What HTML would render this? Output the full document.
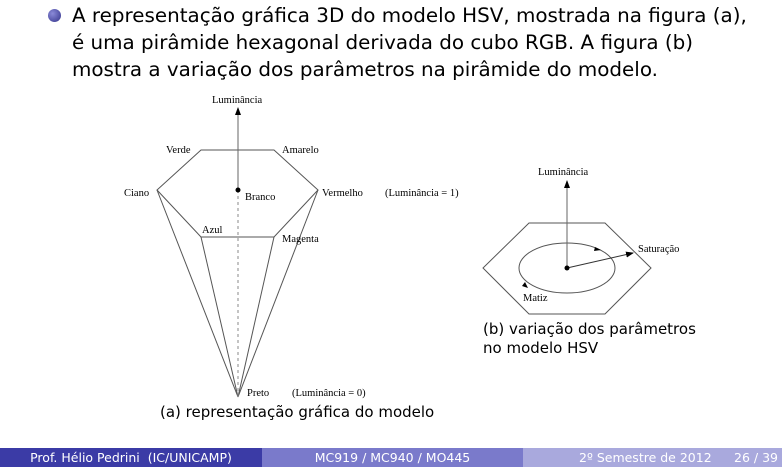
<!DOCTYPE html>
<html><head><meta charset="utf-8"><style>
body{margin:0;width:782px;height:467px;background:#fff;position:relative;overflow:hidden;font-family:"DejaVu Sans","Liberation Sans",sans-serif}
.t{position:absolute;left:72px;top:2px;font-size:19.9px;line-height:27px;color:#000;white-space:nowrap}
.b{position:absolute;left:48px;top:9px;width:13px;height:13px;border-radius:50%;background:radial-gradient(circle at 35% 35%,#8a8ad8,#33338a)}
.f{position:absolute;top:448px;height:19px;font-size:12.5px;color:#fff;line-height:19px}
.cap{position:absolute;font-size:15px;white-space:nowrap}
svg text{font-family:"Liberation Serif",serif;font-size:10.5px}
</style></head><body>
<div class="b"></div>
<div class="t">A representação gráfica 3D do modelo HSV, mostrada na figura (a),<br>é uma pirâmide hexagonal derivada do cubo RGB. A figura (b)<br>mostra a variação dos parâmetros na pirâmide do modelo.</div>
<svg width="782" height="467" style="position:absolute;left:0;top:0">
<defs><marker id="a" markerWidth="8" markerHeight="8" refX="7" refY="4" orient="auto" markerUnits="userSpaceOnUse"><path d="M0,1 L8,4 L0,7z" fill="#000"/></marker></defs>
<g stroke="#555" fill="none" stroke-width="1">
<polygon points="201,150 274,150 318,190 274,237 201,237 157,190"/>
<line x1="157" y1="190" x2="238" y2="397"/><line x1="201" y1="237" x2="238" y2="397"/>
<line x1="274" y1="237" x2="238" y2="397"/><line x1="318" y1="190" x2="238" y2="397"/>
<line x1="238" y1="190" x2="238" y2="397" stroke-dasharray="3,3" stroke="#888"/>
<line x1="238" y1="190" x2="238" y2="108" stroke="#666" marker-end="url(#a)"/>
<polygon points="529,223 605,223 651,268 605,314 529,314 483,268"/>
<ellipse cx="567" cy="268" rx="48" ry="25"/>
<line x1="567" y1="268" x2="567" y2="181" stroke="#666" marker-end="url(#a)"/>
<line x1="567" y1="268" x2="633" y2="253" stroke="#333" marker-end="url(#a)"/>
</g>
<circle cx="238" cy="190" r="2.5"/><circle cx="567" cy="268" r="2.5"/>
<path d="M595,247 l6,3 l-7,1z" fill="#000"/><path d="M525,282 l3,6 l-6,-2z" fill="#000"/>
<text x="212" y="103">Luminância</text><text x="166" y="153">Verde</text><text x="282" y="153">Amarelo</text>
<text x="124" y="196">Ciano</text><text x="245" y="200">Branco</text><text x="322" y="196">Vermelho</text>
<text x="385" y="196">(Luminância = 1)</text><text x="202" y="233">Azul</text><text x="282" y="242">Magenta</text>
<text x="247" y="396">Preto</text><text x="292" y="396">(Luminância = 0)</text>
<text x="538" y="175">Luminância</text><text x="638" y="252">Saturação</text><text x="523" y="301">Matiz</text>
</svg>
<div class="cap" style="left:160px;top:403px">(a) representação gráfica do modelo</div>
<div class="cap" style="left:483px;top:320px;line-height:19px">(b) variação dos parâmetros<br>no modelo HSV</div>
<div class="f" style="left:0;width:262px;background:#3b3ba6;text-align:center">Prof. Hélio Pedrini &nbsp;(IC/UNICAMP)</div>
<div class="f" style="left:262px;width:261px;background:#7a7acb;text-align:center">MC919 / MC940 / MO445</div>
<div class="f" style="left:523px;width:259px;background:#a9a9dd"><span style="position:absolute;left:56px">2º Semestre de 2012</span><span style="position:absolute;left:211px">26 / 39</span></div>
</body></html>
